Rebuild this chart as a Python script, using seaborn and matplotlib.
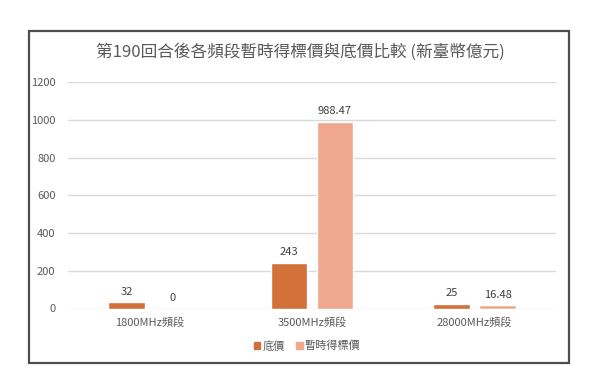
import matplotlib
matplotlib.use('Agg')
import matplotlib.pyplot as plt
import seaborn as sns
import pandas as pd
from matplotlib.patches import Rectangle

categories = ['1800MHz頻段', '3500MHz頻段', '28000MHz頻段']
series_names = ['底價', '暫時得標價']
floor_price = [32, 243, 25]
bid_price = [0, 988.47, 16.48]
y_ticks = [0, 200, 400, 600, 800, 1000, 1200]
title = '第190回合後各頻段暫時得標價與底價比較 (新臺幣億元)'

colors = ['#D2703A', '#EFA88E']
text_gray = '#595959'

df = pd.DataFrame({
    'band': categories * 2,
    'series': [series_names[0]] * 3 + [series_names[1]] * 3,
    'value': floor_price + bid_price,
})

sns.set_style('white')
plt.rcParams['font.family'] = ['Noto Sans CJK TC', 'DejaVu Sans']

fig = plt.figure(figsize=(6, 3.78), dpi=100)
ax = fig.add_axes([68/600, 1 - 308.5/378, 488/600, 226.5/378])

sns.barplot(data=df, x='band', y='value', hue='series', order=categories,
            hue_order=series_names, palette=colors, width=0.565, gap=0.2,
            saturation=1, ax=ax, legend=False)

# value labels above each bar
for cont in ax.containers:
    ax.bar_label(cont, fmt=lambda v: f'{v:g}', padding=4, fontsize=8, color='#404040')

ax.set_ylim(0, 1200)
ax.set_xlim(-0.5, 2.5)
ax.set_yticks(y_ticks)
ax.set_yticklabels([str(t) for t in y_ticks])
ax.yaxis.grid(True, color='#D9D9D9', linewidth=1)
ax.set_axisbelow(True)
sns.despine(ax=ax, left=True, bottom=True)
ax.tick_params(axis='both', length=0, labelsize=8, colors=text_gray)
ax.tick_params(axis='y', pad=9)
ax.tick_params(axis='x', pad=6)
ax.set_xlabel('')
ax.set_ylabel('')

handles = [Rectangle((0, 0), 1, 1, color=c) for c in colors]
fig.legend(handles, series_names, loc='center', bbox_to_anchor=(307/600, 1 - 346/378),
           ncol=2, frameon=False, fontsize=8, labelcolor=text_gray,
           handlelength=0.6, handleheight=0.6, handletextpad=0.2, columnspacing=1.0)

fig.text(300/600, 1 - 52/378, title, ha='center', va='center', fontsize=12, color=text_gray)

# outer frame around the whole chart
fig.patches.append(Rectangle((29/600, 1 - 363/378), 540/600, 332/378, transform=fig.transFigure,
                             fill=False, edgecolor='#4D4D4D', linewidth=1.6))

fig.savefig('out.png', dpi=100)
